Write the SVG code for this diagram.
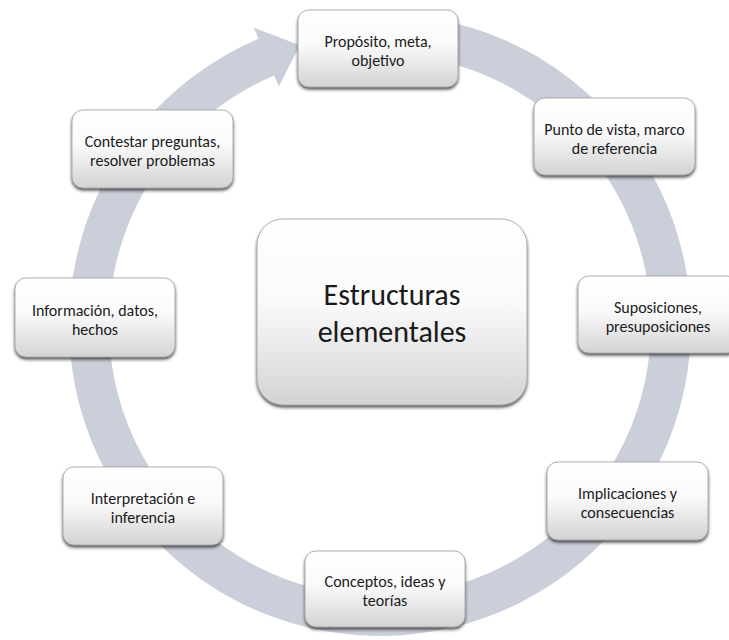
<svg xmlns="http://www.w3.org/2000/svg" width="729" height="640" viewBox="0 0 729 640">
  <defs>
    <linearGradient id="boxFill" x1="0" y1="0" x2="0" y2="1">
      <stop offset="0" stop-color="#ffffff"/>
      <stop offset="0.45" stop-color="#fafafa"/>
      <stop offset="1" stop-color="#d3d3d3"/>
    </linearGradient>
    <filter id="shadow" x="-10%" y="-10%" width="120%" height="130%">
      <feDropShadow dx="0" dy="2.2" stdDeviation="1.8" flood-color="#262626" flood-opacity="0.8"/>
    </filter>
    <style>
      .box { fill: url(#boxFill); stroke: #a0a0a0; stroke-width: 0.8; filter: url(#shadow); }
      .lbl { font-family: Carlito, Calibri, "Liberation Sans", Arial, sans-serif; font-size: 16px; fill: #1a1a1a; text-anchor: middle; }
      .big { font-family: Carlito, Calibri, "Liberation Sans", Arial, sans-serif; font-size: 30px; fill: #1a1a1a; text-anchor: middle; }
      .ring { fill: #cbcfda; }
    </style>
  </defs>
  <rect width="729" height="640" fill="#ffffff"/>

  <!-- cycle ring with arrowhead -->
  <g id="connectors">
    <path class="ring" d="M 434.0 18.7 A 311 311 0 1 1 258.5 38.7 L 253.8 27.7 L 299.8 45.3 L 278.8 86.6 L 274.1 75.5 A 271 271 0 1 0 427.06 58.12 Z"/>
  </g>

  <g id="center">
    <rect class="box" x="257" y="219" width="270" height="186" rx="26"/>
    <text class="big" x="392" y="305">Estructuras</text>
    <text class="big" x="392" y="342">elementales</text>
  </g>

  <g id="proposito">
    <rect class="box" x="298" y="10" width="160" height="77" rx="11"/>
    <text class="lbl" x="378" y="47">Propósito, meta,</text>
    <text class="lbl" x="378" y="66">objetivo</text>
  </g>

  <g id="punto-de-vista">
    <rect class="box" x="534" y="98" width="161" height="77" rx="11"/>
    <text class="lbl" x="614.5" y="135">Punto de vista, marco</text>
    <text class="lbl" x="614.5" y="154">de referencia</text>
  </g>

  <g id="suposiciones">
    <rect class="box" x="578" y="276" width="160" height="77" rx="11"/>
    <text class="lbl" x="658" y="313">Suposiciones,</text>
    <text class="lbl" x="658" y="332">presuposiciones</text>
  </g>

  <g id="implicaciones">
    <rect class="box" x="547" y="462" width="161" height="78" rx="11"/>
    <text class="lbl" x="627.5" y="499">Implicaciones y</text>
    <text class="lbl" x="627.5" y="518">consecuencias</text>
  </g>

  <g id="conceptos">
    <rect class="box" x="305" y="551" width="160" height="76" rx="11"/>
    <text class="lbl" x="385" y="587">Conceptos, ideas y</text>
    <text class="lbl" x="385" y="606">teorías</text>
  </g>

  <g id="interpretacion">
    <rect class="box" x="63" y="467" width="160" height="78" rx="11"/>
    <text class="lbl" x="143" y="504">Interpretación e</text>
    <text class="lbl" x="143" y="523">inferencia</text>
  </g>

  <g id="informacion">
    <rect class="box" x="15" y="278" width="160" height="79" rx="11"/>
    <text class="lbl" x="95" y="316">Información, datos,</text>
    <text class="lbl" x="95" y="335">hechos</text>
  </g>

  <g id="contestar">
    <rect class="box" x="72" y="110" width="161" height="78" rx="11"/>
    <text class="lbl" x="152.5" y="147">Contestar preguntas,</text>
    <text class="lbl" x="152.5" y="166">resolver problemas</text>
  </g>
</svg>
